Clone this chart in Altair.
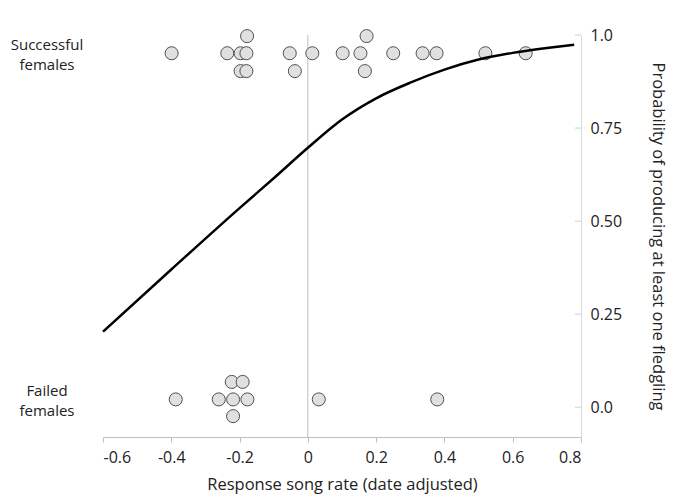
import altair as alt
import pandas as pd

# Fitted probability curve
curve_x = [-0.6, -0.4, -0.2, -0.1, 0.0, 0.1, 0.2, 0.3, 0.4, 0.5, 0.6, 0.7, 0.78]
curve_p = [0.203, 0.370, 0.535, 0.615, 0.697, 0.773, 0.830, 0.872, 0.907, 0.934, 0.952, 0.965, 0.974]

# Successful females (jittered rows)
succ_mid_x = [-0.399, -0.236, -0.197, -0.180, -0.053, 0.013, 0.102, 0.154, 0.250, 0.336, 0.377, 0.520, 0.638]
succ_up_x = [-0.178, 0.172]
succ_low_x = [-0.197, -0.180, -0.038, 0.167]
succ_rows = [0.951, 0.997, 0.903]

# Failed females (jittered rows)
fail_mid_x = [-0.387, -0.261, -0.219, -0.177, 0.032, 0.379]
fail_up_x = [-0.223, -0.191]
fail_low_x = [-0.219]
fail_rows = [0.021, 0.068, -0.024]

x_ticks = [-0.6, -0.4, -0.2, 0.0, 0.2, 0.4, 0.6, 0.8]
y_ticks = [0.0, 0.25, 0.5, 0.75, 1.0]
group_labels = ["Successful\nfemales", "Failed\nfemales"]
group_p = [0.951, 0.021]

W, H = 478, 402
FONT = "Open Sans"
TXT = "#222222"

pts = []
for xs, yv in [(succ_low_x, succ_rows[2]), (succ_mid_x, succ_rows[0]), (succ_up_x, succ_rows[1]),
               (fail_low_x, fail_rows[2]), (fail_mid_x, fail_rows[0]), (fail_up_x, fail_rows[1])]:
    for xv in xs:
        pts.append({"x": xv, "p": yv})
pts_df = pd.DataFrame(pts)
curve_df = pd.DataFrame({"x": curve_x, "p": curve_p})
ytick_df = pd.DataFrame({"p": y_ticks})
lab_df = pd.DataFrame({"label": group_labels, "p": group_p})

xscale = alt.Scale(domain=[-0.6, 0.8], nice=False, zero=False)
yscale = alt.Scale(domain=[-0.08, 1.0], nice=False, zero=False)

xaxis = alt.Axis(
    values=x_ticks,
    labelExpr="datum.value == 0 ? '0' : (datum.value < 0 ? '-' : '') + format(abs(datum.value), '.1f')",
    title="Response song rate (date adjusted)",
    grid=False, domainColor="#bfbfbf", tickColor="#bfbfbf", tickSize=5,
    labelFont=FONT, labelFontSize=16, labelColor=TXT, labelPadding=7,
    titleFont=FONT, titleFontSize=16.5, titleColor=TXT, titleFontWeight="normal", titlePadding=11,
)
yaxis = alt.Axis(
    orient="right", values=y_ticks,
    labelExpr="datum.value == 1 ? '1.0' : (datum.value == 0 ? '0.0' : format(datum.value, '.2f'))",
    title="Probability of producing at least one fledgling",
    grid=False, ticks=False, domainColor="#d9d9d9",
    labelFont=FONT, labelFontSize=16, labelColor=TXT, labelPadding=9,
    titleFont=FONT, titleFontSize=16.5, titleColor=TXT, titleFontWeight="normal", titlePadding=28,
)

base_axes = alt.Chart(curve_df).mark_line(opacity=0).encode(
    x=alt.X("x:Q", scale=xscale, axis=xaxis),
    y=alt.Y("p:Q", scale=yscale, axis=yaxis),
)

zero_rule = alt.Chart(pd.DataFrame({"x": [0.0]})).mark_rule(color="#bdbdbd", strokeWidth=1).encode(
    x=alt.X("x:Q", scale=xscale)
)

yticks = alt.Chart(ytick_df).mark_rule(color="#d0d0d0", strokeWidth=1).encode(
    y=alt.Y("p:Q", scale=yscale), x=alt.value(W - 6), x2=alt.value(W)
)

line = alt.Chart(curve_df).mark_line(color="black", strokeWidth=2.5, interpolate="monotone").encode(
    x=alt.X("x:Q", scale=xscale), y=alt.Y("p:Q", scale=yscale)
)

points = alt.Chart(pts_df).mark_circle(size=170, opacity=1, fill="#e0e0e0", stroke="#505050", strokeWidth=1).encode(
    x=alt.X("x:Q", scale=xscale), y=alt.Y("p:Q", scale=yscale)
)

labels = alt.Chart(lab_df).mark_text(
    lineBreak="\n", align="center", baseline="middle", font=FONT, fontSize=15, color=TXT,
    lineHeight=20, dy=-8
).encode(
    x=alt.value(-56), y=alt.Y("p:Q", scale=yscale), text="label:N"
)

chart = alt.layer(base_axes, zero_rule, yticks, points, line, labels).properties(
    width=W, height=H,
    autosize=alt.AutoSizeParams(type="none"),
    padding={"left": 95, "top": 27, "right": 91, "bottom": 57},
).configure_view(stroke=None)

chart.save("out.html", embed_options={"renderer": "svg", "actions": False})
